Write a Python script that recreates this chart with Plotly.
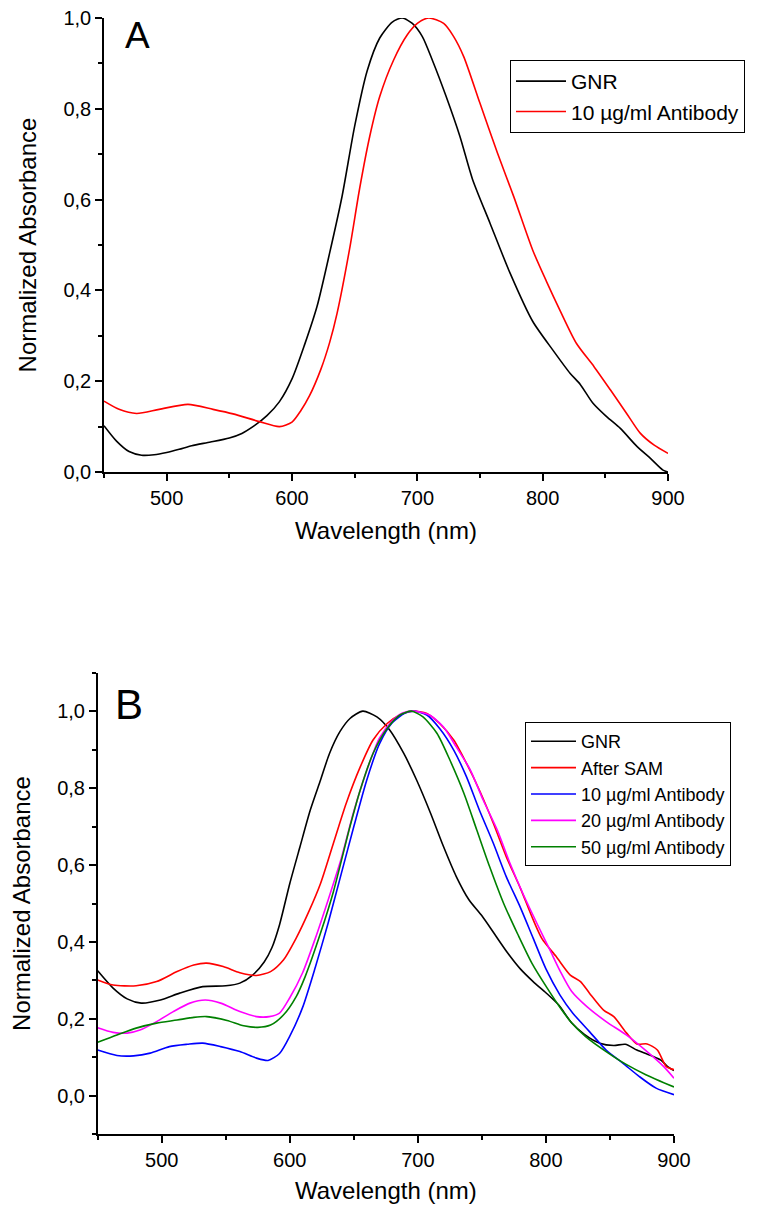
import plotly.graph_objects as go

# ---------------- Panel A data ----------------
a_gnr_x = [450, 460, 470, 480, 490, 500, 510, 520, 535, 550, 560, 570, 580, 590, 600, 610, 620, 630, 640,
           650, 660, 670, 680, 688, 696, 704, 712, 723, 734, 744, 758, 774, 792, 808, 822, 830, 840, 851,
           862, 875, 886, 896, 900]
a_gnr_y = [0.102, 0.068, 0.045, 0.037, 0.038, 0.043, 0.050, 0.058, 0.066, 0.075, 0.085, 0.102, 0.124, 0.155,
           0.205, 0.280, 0.365, 0.482, 0.608, 0.762, 0.884, 0.956, 0.991, 1.000, 0.988, 0.959, 0.907, 0.827,
           0.739, 0.645, 0.548, 0.438, 0.332, 0.269, 0.217, 0.193, 0.152, 0.122, 0.096, 0.057, 0.030, 0.004, 0.0]

a_ab_x = [450, 462, 476, 494, 517, 537, 553, 574, 590, 600, 607, 614, 623, 630, 636, 646, 654, 662, 670, 681,
          692, 700, 709, 721, 729, 737, 750, 764, 777, 792, 803, 814, 827, 841, 854, 867, 878, 889, 900]
a_ab_y = [0.156, 0.138, 0.129, 0.138, 0.149, 0.138, 0.128, 0.111, 0.100, 0.110, 0.135, 0.168, 0.226, 0.285,
          0.350, 0.492, 0.625, 0.739, 0.827, 0.907, 0.963, 0.988, 1.000, 0.988, 0.959, 0.915, 0.812, 0.702,
          0.606, 0.489, 0.420, 0.355, 0.283, 0.232, 0.181, 0.129, 0.085, 0.059, 0.041]

# ---------------- Panel B data ----------------
b_gnr_x = [450, 462, 473, 484, 499, 514, 532, 550, 561, 571, 580, 586, 592, 600, 608, 616, 624, 631, 639, 647,
           657, 668, 678, 689, 699, 710, 720, 730, 740, 750, 760, 770, 780, 790, 800, 810, 820, 830, 842, 853,
           862, 871, 881, 890, 895, 900]
b_gnr_y = [0.325, 0.280, 0.252, 0.241, 0.249, 0.267, 0.284, 0.286, 0.293, 0.314, 0.348, 0.385, 0.445, 0.552,
           0.648, 0.743, 0.821, 0.890, 0.946, 0.981, 1.000, 0.985, 0.951, 0.890, 0.821, 0.734, 0.648, 0.570,
           0.509, 0.468, 0.420, 0.372, 0.330, 0.297, 0.268, 0.236, 0.190, 0.160, 0.137, 0.131, 0.134, 0.119,
           0.106, 0.092, 0.076, 0.066]

b_sam_x = [450, 462, 480, 496, 512, 525, 535, 548, 561, 574, 585, 595, 605, 615, 624, 634, 644, 655, 665, 676,
           686, 696, 707, 717, 728, 738, 748, 759, 769, 780, 790, 797, 808, 819, 827, 834, 845, 853, 863, 871,
           879, 887, 894, 900]
b_sam_y = [0.301, 0.288, 0.286, 0.297, 0.323, 0.340, 0.345, 0.336, 0.320, 0.313, 0.323, 0.353, 0.410, 0.480,
           0.552, 0.656, 0.760, 0.855, 0.925, 0.968, 0.990, 1.000, 0.994, 0.968, 0.925, 0.864, 0.795, 0.708,
           0.622, 0.540, 0.458, 0.408, 0.362, 0.314, 0.297, 0.267, 0.223, 0.206, 0.163, 0.135, 0.135, 0.119,
           0.076, 0.068]

b_10_x = [450, 465, 478, 491, 506, 520, 532, 546, 561, 574, 583, 592, 600, 610, 620, 630, 640, 650, 660, 670,
          680, 690, 697, 707, 717, 728, 738, 748, 759, 769, 780, 790, 800, 811, 821, 834, 847, 860, 873, 886, 900]
b_10_y = [0.119, 0.105, 0.104, 0.111, 0.128, 0.134, 0.137, 0.128, 0.115, 0.098, 0.092, 0.110, 0.155, 0.230,
          0.335, 0.450, 0.575, 0.700, 0.820, 0.915, 0.970, 0.995, 1.000, 0.990, 0.955, 0.899, 0.829, 0.743,
          0.656, 0.570, 0.490, 0.410, 0.330, 0.262, 0.215, 0.167, 0.119, 0.085, 0.050, 0.020, 0.003]

b_20_x = [450, 462, 473, 483, 496, 509, 522, 534, 546, 561, 574, 584, 592, 600, 610, 620, 630, 640, 650, 660,
          670, 680, 688, 697, 709, 720, 730, 741, 751, 762, 772, 782, 793, 803, 811, 820, 832, 847, 863, 879,
          892, 900]
b_20_y = [0.177, 0.165, 0.163, 0.171, 0.193, 0.219, 0.241, 0.249, 0.241, 0.219, 0.206, 0.206, 0.215, 0.255,
          0.320, 0.410, 0.510, 0.615, 0.740, 0.845, 0.930, 0.975, 0.995, 1.000, 0.990, 0.959, 0.907, 0.847,
          0.769, 0.691, 0.604, 0.526, 0.448, 0.380, 0.325, 0.272, 0.232, 0.193, 0.158, 0.115, 0.076, 0.046]

b_50_x = [450, 465, 480, 496, 512, 525, 535, 551, 564, 575, 585, 595, 605, 612, 624, 634, 647, 655, 665, 676,
          686, 695, 704, 715, 725, 736, 746, 756, 767, 778, 789, 801, 812, 820, 831, 847, 863, 878, 900]
b_50_y = [0.139, 0.158, 0.176, 0.189, 0.197, 0.204, 0.206, 0.196, 0.182, 0.178, 0.184, 0.210, 0.258, 0.310,
          0.423, 0.530, 0.700, 0.795, 0.890, 0.955, 0.990, 1.000, 0.985, 0.942, 0.873, 0.786, 0.691, 0.596,
          0.500, 0.420, 0.345, 0.280, 0.225, 0.190, 0.154, 0.115, 0.081, 0.055, 0.023]

a_series = [("GNR", a_gnr_x, a_gnr_y, "#000000"),
            ("10 µg/ml Antibody", a_ab_x, a_ab_y, "#FF0000")]
b_series = [("GNR", b_gnr_x, b_gnr_y, "#000000"),
            ("After SAM", b_sam_x, b_sam_y, "#FF0000"),
            ("10 µg/ml Antibody", b_10_x, b_10_y, "#0000FF"),
            ("20 µg/ml Antibody", b_20_x, b_20_y, "#FF00FF"),
            ("50 µg/ml Antibody", b_50_x, b_50_y, "#008000")]

FONT = "Liberation Sans, Arial, sans-serif"
W, H = 769, 1210

fig = go.Figure()
for name, xs, ys, col in a_series:
    fig.add_trace(go.Scatter(x=xs, y=ys, name=name, mode="lines",
                             line=dict(color=col, width=1.6, shape="spline", smoothing=0.7),
                             xaxis="x", yaxis="y", legend="legend"))
for name, xs, ys, col in b_series:
    fig.add_trace(go.Scatter(x=xs, y=ys, name=name, mode="lines",
                             line=dict(color=col, width=1.6, shape="spline", smoothing=0.7),
                             xaxis="x2", yaxis="y2", legend="legend2"))


def px_x(p):
    return p / W


def px_y(p):
    return 1 - p / H


common = dict(showline=True, linecolor="black", linewidth=1.5, showgrid=False, zeroline=False,
              ticks="outside", ticklen=7, tickwidth=1.5, tickcolor="black", mirror=False, automargin=False,
              tickfont=dict(family=FONT, size=20, color="black"))
minor_common = dict(ticks="outside", ticklen=4, tickwidth=1.5, tickcolor="black")
title_font = dict(family=FONT, size=24, color="black")

fig.update_layout(
    width=W, height=H, margin=dict(l=0, r=0, t=0, b=0, autoexpand=False),
    paper_bgcolor="white", plot_bgcolor="white",
    separators=",.",
    font=dict(family=FONT, color="black"),
    xaxis=dict(domain=[px_x(104), px_x(668)], range=[450, 900], tick0=500, dtick=100,
               minor=dict(dtick=50, tick0=450, **minor_common),
               title=dict(text="Wavelength (nm)", font=title_font, standoff=14),
               anchor="y", **common),
    yaxis=dict(domain=[px_y(472), px_y(18)], range=[0, 1.0], tick0=0, dtick=0.2, tickformat=".1f",
               minor=dict(dtick=0.1, tick0=0, **minor_common),
               title=dict(text="Normalized Absorbance", font=title_font, standoff=20),
               anchor="x", **common),
    xaxis2=dict(domain=[px_x(97.7), px_x(674)], range=[450, 900], tick0=500, dtick=100,
                minor=dict(dtick=50, tick0=450, **minor_common),
                title=dict(text="Wavelength (nm)", font=title_font, standoff=12),
                anchor="y2", **common),
    yaxis2=dict(domain=[px_y(1134.3), px_y(672.7)], range=[-0.1, 1.1], tick0=0, dtick=0.2, tickformat=".1f",
                minor=dict(dtick=0.1, tick0=-0.1, **minor_common),
                title=dict(text="Normalized Absorbance", font=title_font, standoff=20),
                anchor="x2", **common),
    legend=dict(x=px_x(510), y=px_y(60), xanchor="left", yanchor="top",
                bgcolor="white", bordercolor="black", borderwidth=1,
                font=dict(family=FONT, size=21, color="black"), itemwidth=50, tracegroupgap=0),
    legend2=dict(x=px_x(525), y=px_y(722), xanchor="left", yanchor="top",
                 bgcolor="white", bordercolor="black", borderwidth=1,
                 font=dict(family=FONT, size=18, color="black"), itemwidth=45, tracegroupgap=0),
    annotations=[
        dict(text="A", x=px_x(123), y=px_y(35), xref="paper", yref="paper", xanchor="left", yanchor="middle",
             showarrow=False, font=dict(family=FONT, size=37, color="black")),
        dict(text="B", x=px_x(113), y=px_y(704), xref="paper", yref="paper", xanchor="left", yanchor="middle",
             showarrow=False, font=dict(family=FONT, size=42, color="black")),
    ],
)

fig.write_html("out.html")
